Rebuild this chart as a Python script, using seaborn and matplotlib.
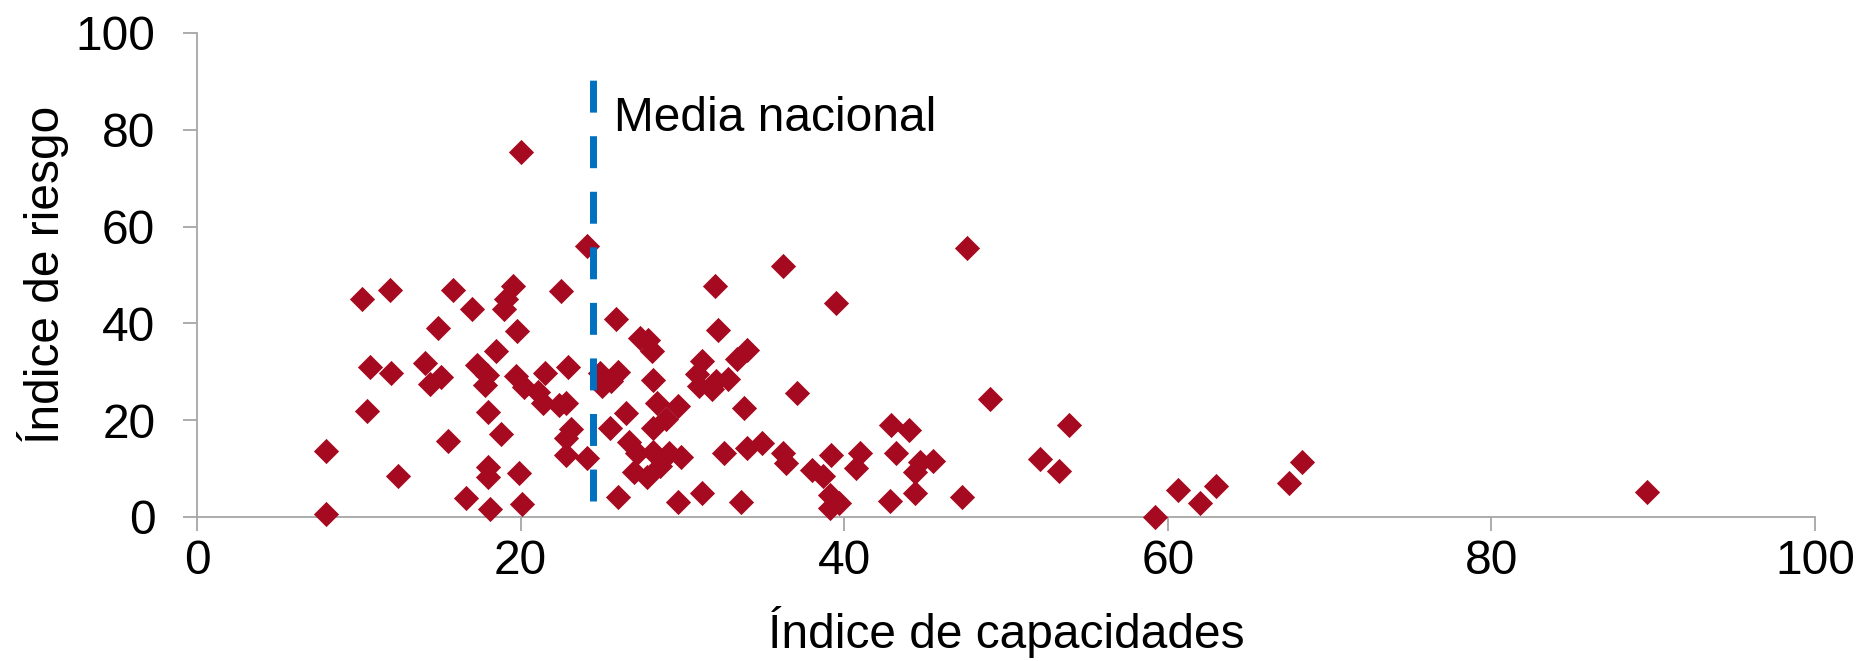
import numpy as np
import pandas as pd
import matplotlib
matplotlib.use("Agg")
import matplotlib.pyplot as plt
import seaborn as sns

# Índice de capacidades (x) and Índice de riesgo (y)
capacidades = [
    8.0, 8.0, 10.2, 10.5, 10.7, 11.9, 12.0, 12.4,
    14.1, 14.4, 14.9, 15.1, 15.5, 15.8, 16.6, 17.0, 17.3, 17.8, 17.9,
    17.96, 18.0, 17.96, 18.1, 18.5, 18.8, 19.0, 19.1, 19.5, 19.7, 19.8, 19.9,
    20.0, 20.1, 20.2, 21.1, 21.4, 21.5, 22.4, 22.5, 22.8,
    22.96, 23.1, 22.8, 22.8, 24.1, 24.1,
    24.9, 26.0, 25.0, 25.6, 25.5, 26.5, 26.7, 26.0, 25.9,
    27.4, 27.9, 28.1, 28.2, 28.4, 29.7, 29.0, 28.2,
    27.2, 27.0, 27.8, 28.6, 28.2, 29.2, 29.9,
    29.7, 31.2, 33.6,
    31.2, 30.9, 31.0, 32.1, 32.8, 31.8, 32.0, 32.2,
    33.4, 34.0, 33.8, 32.6, 34.0, 34.9, 36.2, 36.2, 36.4, 37.1, 38.0, 38.7,
    39.2, 39.1, 39.7, 39.1, 39.5, 40.7, 41.0,
    42.8, 42.9, 43.2, 44.0, 44.4, 44.4, 44.7, 45.5,
    47.3, 47.6, 49.0, 52.1, 53.3, 53.9, 59.2, 60.6, 62.0, 63.0, 67.5, 68.3, 89.6,
]
riesgo = [
    13.6, 0.6, 45.1, 21.9, 30.9, 47.0, 29.7, 8.5,
    31.9, 27.5, 39.0, 29.0, 15.7, 46.8, 3.9, 42.9, 31.4, 27.3, 29.3,
    21.6, 10.4, 8.3, 1.7, 34.4, 17.1, 43.0, 45.0, 47.8, 29.2, 38.4, 9.0,
    75.5, 2.6, 26.9, 25.9, 23.5, 29.7, 23.1, 46.6, 23.5,
    30.9, 18.1, 16.4, 12.9, 12.1, 56.0,
    29.7, 30.0, 27.0, 28.2, 18.4, 21.4, 15.5, 4.2, 41.0,
    37.0, 36.5, 34.3, 28.3, 23.6, 22.9, 20.3, 18.3,
    13.2, 9.2, 8.3, 10.6, 13.4, 13.2, 12.5,
    3.0, 4.9, 3.0,
    32.2, 29.6, 27.0, 28.2, 28.5, 26.5, 47.7, 38.7,
    32.6, 34.5, 22.6, 13.2, 14.3, 15.3, 51.9, 13.2, 11.2, 25.6, 9.7, 8.5,
    12.8, 4.5, 2.8, 1.9, 44.2, 10.1, 13.2,
    3.4, 19.0, 13.2, 18.0, 9.4, 5.0, 11.4, 11.6,
    4.1, 55.5, 24.4, 12.0, 9.6, 19.0, 0.1, 5.6, 2.8, 6.5, 7.1, 11.3, 5.2,
]
media_nacional = 24.45
media_rango = [3.3, 90.9]
x_ticks = [0, 20, 40, 60, 80, 100]
y_ticks = [0, 20, 40, 60, 80, 100]

sns.set_style("white")
plt.rcParams["font.family"] = ["Liberation Sans", "DejaVu Sans"]
plt.rcParams["text.color"] = "black"
plt.rcParams["axes.labelcolor"] = "black"
plt.rcParams["xtick.labelcolor"] = "black"
plt.rcParams["ytick.labelcolor"] = "black"
FS = 34.5
GRAY = "#a6a6a6"

df = pd.DataFrame({"capacidades": capacidades, "riesgo": riesgo})

fig = plt.figure(figsize=(18.6, 6.61), dpi=100)
ax = fig.add_axes([197 / 1860, 1 - 517 / 661, (1815 - 197) / 1860, (517 - 33) / 661])

sns.scatterplot(data=df, x="capacidades", y="riesgo", marker="D", s=165,
                color="#a50a21", linewidth=0, ax=ax, zorder=3, clip_on=False)

ax.plot([media_nacional, media_nacional], media_rango, color="#0070c0",
        linewidth=5.0, linestyle=(0, (4.6, 3.4)), solid_capstyle="butt",
        dash_capstyle="butt", zorder=4)
ax.text(25.75, 79.8, "Media nacional", fontsize=FS, ha="left", va="baseline",
        color="black")

ax.set_xlim(0, 100)
ax.set_ylim(0, 100)
ax.set_xticks(x_ticks)
ax.set_yticks(y_ticks)
ax.set_xticklabels([str(t) for t in x_ticks])
ax.set_yticklabels([str(t) for t in y_ticks])

for s in ["top", "right"]:
    ax.spines[s].set_visible(False)
for s in ["left", "bottom"]:
    ax.spines[s].set_color(GRAY)
    ax.spines[s].set_linewidth(1.3)

ax.tick_params(axis="y", direction="out", length=10, width=1.3, color=GRAY,
               labelsize=FS, pad=20, left=True, labelcolor="black")
ax.tick_params(axis="x", direction="out", length=10, width=1.3, color=GRAY,
               labelsize=FS, pad=6, bottom=True, labelcolor="black")

ax.set_xlabel("Índice de capacidades", fontsize=FS, color="black")
ax.set_ylabel("Índice de riesgo", fontsize=FS, color="black")
ax.xaxis.set_label_coords(0.5, -0.238)
ax.xaxis.label.set_verticalalignment("center")
ax.yaxis.set_label_coords(-0.095, 0.5)
ax.yaxis.label.set_verticalalignment("center")

fig.savefig("out.png", dpi=100)
